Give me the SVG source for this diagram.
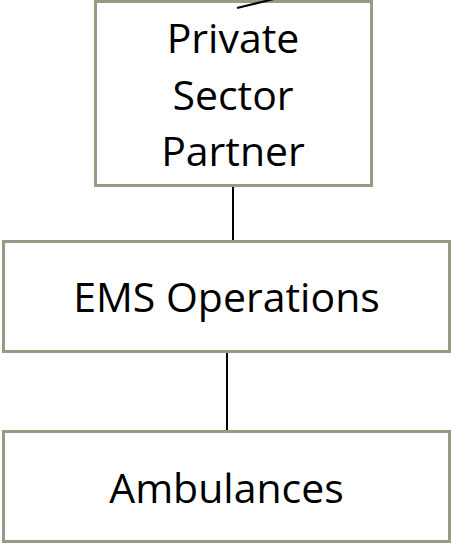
<svg xmlns="http://www.w3.org/2000/svg" width="452" height="544" viewBox="0 0 452 544">
<style>
.box{fill:#ffffff;stroke:#939c84;stroke-width:3}
.lbl{font-family:"Open Sans","Liberation Sans",sans-serif;font-size:41px;fill:#000000;text-anchor:middle}
.conn{stroke:#000000;stroke-width:2;fill:none}
</style>
<rect width="452" height="544" fill="#ffffff"/>
<g id="node-private">
<rect class="box" x="95.5" y="1.5" width="276" height="184"/>
<text class="lbl" x="233" y="53">Private</text>
<text class="lbl" x="233" y="110">Sector</text>
<text class="lbl" x="233" y="166">Partner</text>
</g>
<g id="node-ems">
<rect class="box" x="3.5" y="241.5" width="446" height="110"/>
<text class="lbl" x="226.5" y="312">EMS Operations</text>
</g>
<g id="node-ambulances">
<rect class="box" x="3.5" y="431.5" width="446" height="110"/>
<text class="lbl" x="226.5" y="503">Ambulances</text>
</g>
<g id="connectors">
<line class="conn" x1="237" y1="8" x2="274" y2="-1"/>
<line class="conn" x1="233" y1="187" x2="233" y2="240"/>
<line class="conn" x1="227" y1="353" x2="227" y2="430"/>
</g>
</svg>
